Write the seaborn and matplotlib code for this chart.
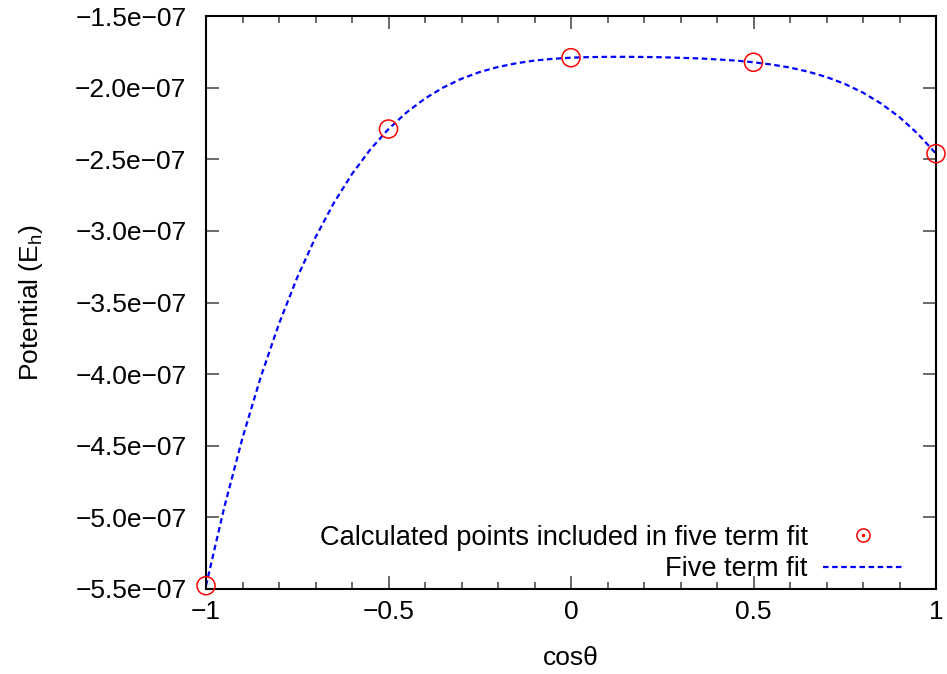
import matplotlib
matplotlib.use("Agg")
import matplotlib.pyplot as plt
import seaborn as sns
import pandas as pd
from matplotlib.lines import Line2D
from matplotlib.legend_handler import HandlerTuple
from matplotlib.ticker import FixedLocator, FixedFormatter, MultipleLocator

# Calculated points (cos theta, potential in E_h)
pts_x = [-1.0, -0.5, 0.0, 0.5, 1.0]
pts_y = [-5.477e-07, -2.289e-07, -1.791e-07, -1.823e-07, -2.461e-07]

# Five term fit curve
fit_x = [-1.0, -0.95, -0.9, -0.85, -0.8, -0.75, -0.7, -0.65, -0.6, -0.55, -0.5,
         -0.45, -0.4, -0.35, -0.3, -0.25, -0.2, -0.15, -0.1, -0.05, 0.0,
         0.05, 0.1, 0.15, 0.2, 0.25, 0.3, 0.35, 0.4, 0.45, 0.5,
         0.55, 0.6, 0.65, 0.7, 0.75, 0.8, 0.85, 0.9, 0.95, 1.0]
fit_y = [-5.477, -4.930, -4.445, -4.020, -3.648, -3.325, -3.045, -2.806, -2.603, -2.432, -2.289,
         -2.172, -2.076, -1.999, -1.938, -1.891, -1.856, -1.830, -1.811, -1.799, -1.791,
         -1.787, -1.785, -1.785, -1.786, -1.788, -1.792, -1.796, -1.803, -1.811, -1.823,
         -1.839, -1.860, -1.889, -1.926, -1.974, -2.035, -2.112, -2.206, -2.322, -2.461]
fit_y = [v * 1e-07 for v in fit_y]

x_ticks = [-1.0, -0.5, 0.0, 0.5, 1.0]
x_tick_labels = ["\u22121", "\u22120.5", "0", "0.5", "1"]
y_ticks = [-5.5e-07, -5.0e-07, -4.5e-07, -4.0e-07, -3.5e-07, -3.0e-07, -2.5e-07, -2.0e-07, -1.5e-07]
y_tick_labels = ["\u22125.5e\u221207", "\u22125.0e\u221207", "\u22124.5e\u221207", "\u22124.0e\u221207",
                 "\u22123.5e\u221207", "\u22123.0e\u221207", "\u22122.5e\u221207", "\u22122.0e\u221207",
                 "\u22121.5e\u221207"]

pts_label = "Calculated points included in five term fit"
fit_label = "Five term fit"

pts_df = pd.DataFrame({"x": pts_x, "y": pts_y})
fit_df = pd.DataFrame({"x": fit_x, "y": fit_y})

sns.set_theme(style="ticks")
plt.rcParams["font.family"] = ["Liberation Sans", "DejaVu Sans"]
plt.rcParams["mathtext.fontset"] = "custom"
plt.rcParams["mathtext.rm"] = "Liberation Sans"
plt.rcParams["mathtext.it"] = "Liberation Sans"
plt.rcParams["text.color"] = "black"
plt.rcParams["axes.labelcolor"] = "black"

FS = 19

fig = plt.figure(figsize=(9.47, 6.74), dpi=100)
ax = fig.add_axes([206 / 947, 1 - 589 / 674, (936 - 206) / 947, (589 - 16) / 674])

sns.scatterplot(data=pts_df, x="x", y="y", ax=ax, marker="o", s=13 ** 2,
                facecolors="none", edgecolor="#ff0000", linewidth=1.1,
                label=pts_label, clip_on=False, zorder=3)
sns.lineplot(data=fit_df, x="x", y="y", ax=ax, color="#0000ff", linewidth=1.6,
             dashes=False, label=fit_label, zorder=2)
ax.lines[-1].set_dashes((2.5, 1.6))

ax.set_xlim(-1, 1)
ax.set_ylim(-5.5e-07, -1.5e-07)
ax.xaxis.set_major_locator(FixedLocator(x_ticks))
ax.xaxis.set_major_formatter(FixedFormatter(x_tick_labels))
ax.xaxis.set_minor_locator(MultipleLocator(0.1))
ax.yaxis.set_major_locator(FixedLocator(y_ticks))
ax.yaxis.set_major_formatter(FixedFormatter(y_tick_labels))

for s in ax.spines.values():
    s.set_linewidth(1.5)
    s.set_color("black")
    s.set_visible(True)

ax.tick_params(axis="both", which="major", direction="in", length=9.5, width=1.1,
               color="#404040", labelsize=FS, top=True, right=True, labelcolor="black")
ax.tick_params(axis="x", which="minor", direction="in", length=5, width=1.1,
               color="#404040", top=True, bottom=True)
ax.tick_params(axis="x", which="major", pad=8)
ax.tick_params(axis="y", which="major", pad=14)

ax.set_xlabel("cos\u03b8", fontsize=FS, labelpad=16, color="black")
ax.set_ylabel("Potential (E$_\\mathrm{h}$)", fontsize=FS, labelpad=22, color="black")

handles, labels = ax.get_legend_handles_labels()
circ = Line2D([], [], marker="o", ls="", markersize=9.5, markerfacecolor="none",
              markeredgecolor="#ff0000", markeredgewidth=1.1)
dot = Line2D([], [], marker="o", ls="", markersize=1.6, color="#ff0000")
new_handles = []
for h, l in zip(handles, labels):
    new_handles.append((circ, dot) if l == pts_label else h)

leg = ax.legend(new_handles, labels, loc="lower right", bbox_to_anchor=(0.955, 0.012),
                frameon=False, markerfirst=False, fontsize=19.6, handlelength=2.95,
                handletextpad=0.55, labelspacing=0.2, borderaxespad=0.0, borderpad=0.0,
                handler_map={tuple: HandlerTuple(ndivide=1)}, labelcolor="black")
try:
    leg._legend_handle_box.get_children()[0].align = "right"
except Exception:
    pass

fig.savefig("out.png", dpi=100)
